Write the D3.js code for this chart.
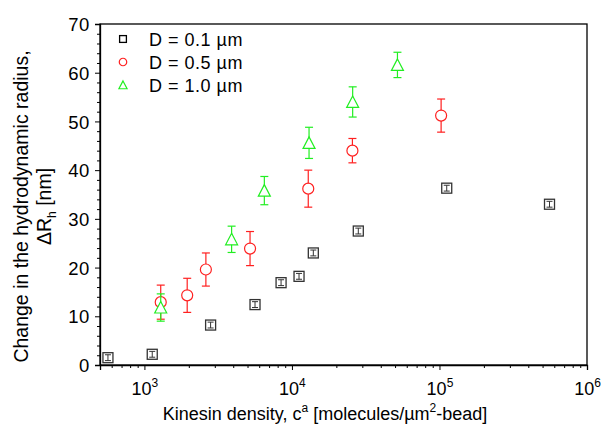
<!DOCTYPE html>
<html lang="en">
<head>
<meta charset="UTF-8">
<title>Change in hydrodynamic radius vs kinesin density</title>
<script src="https://d3js.org/d3.v7.min.js"></script>
<style>
  body { margin: 0; background: #fff; }
  svg { display: block; font-family: "Liberation Sans", Arial, sans-serif; }
</style>
</head>
<body>
<svg width="601" height="424"></svg>
<script>
// series
const xSmall = [566, 1130, 2810, 5620, 8440, 11170, 13960, 28170, 112000, 557000];
const ySmall = [1.5, 2.2, 8.2, 12.4, 16.9, 18.2, 23.0, 27.5, 36.3, 33.0];
const eSmall = [0.6, 0.6, 0.6, 0.6, 0.6, 0.6, 0.6, 0.6, 0.6, 0.6];

const xMid = [1290, 1950, 2610, 5200, 12900, 25700, 102600];
const yMid = [12.9, 14.3, 19.6, 23.9, 36.2, 44.0, 51.2];
const eMid = [3.5, 3.5, 3.4, 3.5, 3.8, 2.5, 3.4];

const xLarge = [1290, 3900, 6500, 13060, 25800, 51900];
const yLarge = [11.8, 25.8, 35.8, 45.6, 54.0, 61.6];
const eLarge = [2.8, 2.7, 2.9, 3.2, 3.1, 2.6];

const seriesNames = ["D = 0.1 \u00b5m", "D = 0.5 \u00b5m", "D = 1.0 \u00b5m"];
const xTickValues = [1e3, 1e4, 1e5, 1e6];
const xTickExp = ["3", "4", "5", "6"];
const yTickValues = [0, 10, 20, 30, 40, 50, 60, 70];

const margin = { top: 24, right: 14, bottom: 59, left: 100 },
    width = 601 - margin.left - margin.right,
    height = 424 - margin.top - margin.bottom;

const svg = d3.select("svg")
    .append("g")
    .attr("transform", `translate(${margin.left},${margin.top})`);

const x = d3.scaleLog().domain([500, 1e6]).range([0, width]);
const y = d3.scaleLinear().domain([0, 70]).range([height, 0]);

// minor ticks
const xMinor = [];
[100, 1000, 10000, 100000].forEach(d => {
    for (let k = 2; k <= 9; k++) if (d * k >= 500 && d * k < 1e6) xMinor.push(d * k);
});
const yMinor = d3.range(0, 71, 2).filter(v => v % 10 !== 0);

svg.append("g")
    .attr("transform", `translate(0,${height})`)
    .call(d3.axisBottom(x).tickValues(xMinor).tickSize(3).tickFormat(""))
    .call(g => g.select(".domain").remove());
svg.append("g")
    .call(d3.axisLeft(y).tickValues(yMinor).tickSize(3).tickFormat(""))
    .call(g => g.select(".domain").remove());

const xAxis = svg.append("g")
    .attr("transform", `translate(0,${height})`)
    .call(d3.axisBottom(x).tickValues(xTickValues).tickSize(5).tickFormat(""));
xAxis.selectAll(".tick").each(function (d, i) {
    const t = d3.select(this).append("text")
        .attr("fill", "#000")
        .attr("y", 30)
        .attr("text-anchor", "middle")
        .style("font-size", "18px");
    t.append("tspan").text("10");
    t.append("tspan").attr("dy", -8).style("font-size", "12px").text(xTickExp[i]);
});

svg.append("g")
    .call(d3.axisLeft(y).tickValues(yTickValues).tickSize(5))
    .call(g => g.selectAll("text")
        .style("font-size", "18.5px").style("letter-spacing", "0.6px")
        .attr("fill", "#000").attr("x", -10).attr("dy", "0.36em"));

svg.selectAll(".domain").attr("stroke", "#000").attr("stroke-width", 1.3);
svg.selectAll(".tick line").attr("stroke", "#000");

// frame
svg.append("rect")
    .attr("width", width).attr("height", height)
    .attr("fill", "none").attr("stroke", "#000").attr("stroke-width", 1.3);

const series = [
    { xs: xSmall, ys: ySmall, es: eSmall, color: "#333", shape: "square" },
    { xs: xMid, ys: yMid, es: eMid, color: "#ff2020", shape: "circle" },
    { xs: xLarge, ys: yLarge, es: eLarge, color: "#22ee22", shape: "triangle" }
];

function drawSymbol(g, shape, color, k) {
    if (shape === "square") {
        g.append("rect").attr("x", -5 * k).attr("y", -5 * k).attr("width", 10 * k).attr("height", 10 * k)
            .attr("fill", "#fff").attr("stroke", color).attr("stroke-width", 1.3);
    } else if (shape === "circle") {
        g.append("circle").attr("r", 5.5 * k)
            .attr("fill", "#fff").attr("stroke", color).attr("stroke-width", 1.2);
    } else {
        g.append("path").attr("d", `M0,${-6 * k}L${6 * k},${5.5 * k}L${-6 * k},${5.5 * k}Z`)
            .attr("fill", "#fff").attr("stroke", color).attr("stroke-width", 1.2);
    }
}

series.forEach(s => {
    const pts = s.xs.map((v, i) => ({ x: v, y: s.ys[i], e: s.es[i] }));
    const g = svg.append("g");
    const cap = s.shape === "square" ? 3 : 4;
    // error bars
    const eb = g.selectAll(".eb").data(pts).enter().append("g")
        .attr("stroke", s.color).attr("stroke-width", 1.2);
    eb.append("line")
        .attr("x1", d => x(d.x)).attr("x2", d => x(d.x))
        .attr("y1", d => y(d.y + d.e)).attr("y2", d => y(d.y - d.e));
    eb.append("line")
        .attr("x1", d => x(d.x) - cap).attr("x2", d => x(d.x) + cap)
        .attr("y1", d => y(d.y + d.e)).attr("y2", d => y(d.y + d.e));
    eb.append("line")
        .attr("x1", d => x(d.x) - cap).attr("x2", d => x(d.x) + cap)
        .attr("y1", d => y(d.y - d.e)).attr("y2", d => y(d.y - d.e));
    // symbols
    const sym = g.selectAll(".sym").data(pts).enter().append("g")
        .attr("transform", d => `translate(${x(d.x)},${y(d.y)})`);
    sym.each(function () { drawSymbol(d3.select(this), s.shape, s.color, 1); });
    if (s.shape === "square") {
        // tiny error bars inside the squares
        sym.append("line").attr("x1", 0).attr("x2", 0)
            .attr("y1", d => y(d.y + d.e) - y(d.y)).attr("y2", d => y(d.y - d.e) - y(d.y))
            .attr("stroke", s.color).attr("stroke-width", 1);
        sym.append("line").attr("x1", -3).attr("x2", 3)
            .attr("y1", d => y(d.y + d.e) - y(d.y)).attr("y2", d => y(d.y + d.e) - y(d.y))
            .attr("stroke", s.color).attr("stroke-width", 1);
        sym.append("line").attr("x1", -3).attr("x2", 3)
            .attr("y1", d => y(d.y - d.e) - y(d.y)).attr("y2", d => y(d.y - d.e) - y(d.y))
            .attr("stroke", s.color).attr("stroke-width", 1);
    }
});

// legend
const legend = svg.append("g").attr("transform", "translate(23,15)");
series.forEach((s, i) => {
    const row = legend.append("g").attr("transform", `translate(0,${i * 23})`);
    drawSymbol(row.append("g"), s.shape, s.shape === "square" ? "#000" : s.color, 0.68);
    row.append("text").attr("x", 26).attr("y", 6.5)
        .style("font-size", "18px").style("letter-spacing", "0.5px").text(seriesNames[i]);
});

// axis titles
const xt = svg.append("text")
    .attr("x", 225).attr("y", height + 55)
    .attr("text-anchor", "middle")
    .style("font-size", "18px");
xt.append("tspan").text("Kinesin density, c");
xt.append("tspan").attr("dy", -8).style("font-size", "12px").text("a");
xt.append("tspan").attr("dy", 8).text(" [molecules/\u00b5m");
xt.append("tspan").attr("dy", -8).style("font-size", "12px").text("2");
xt.append("tspan").attr("dy", 8).text("-bead]");

const yt = svg.append("g")
    .attr("transform", `translate(-72,${height / 2 + 12}) rotate(-90)`);
yt.append("text").attr("text-anchor", "middle")
    .style("font-size", "19.5px").text("Change in the hydrodynamic radius,");
const yt2 = yt.append("text").attr("y", 23).attr("text-anchor", "middle")
    .style("font-size", "19.5px");
yt2.append("tspan").text("\u0394R");
yt2.append("tspan").attr("dy", 5).style("font-size", "12px").text("h");
yt2.append("tspan").attr("dy", -5).text(" [nm]");
</script>
</body>
</html>
